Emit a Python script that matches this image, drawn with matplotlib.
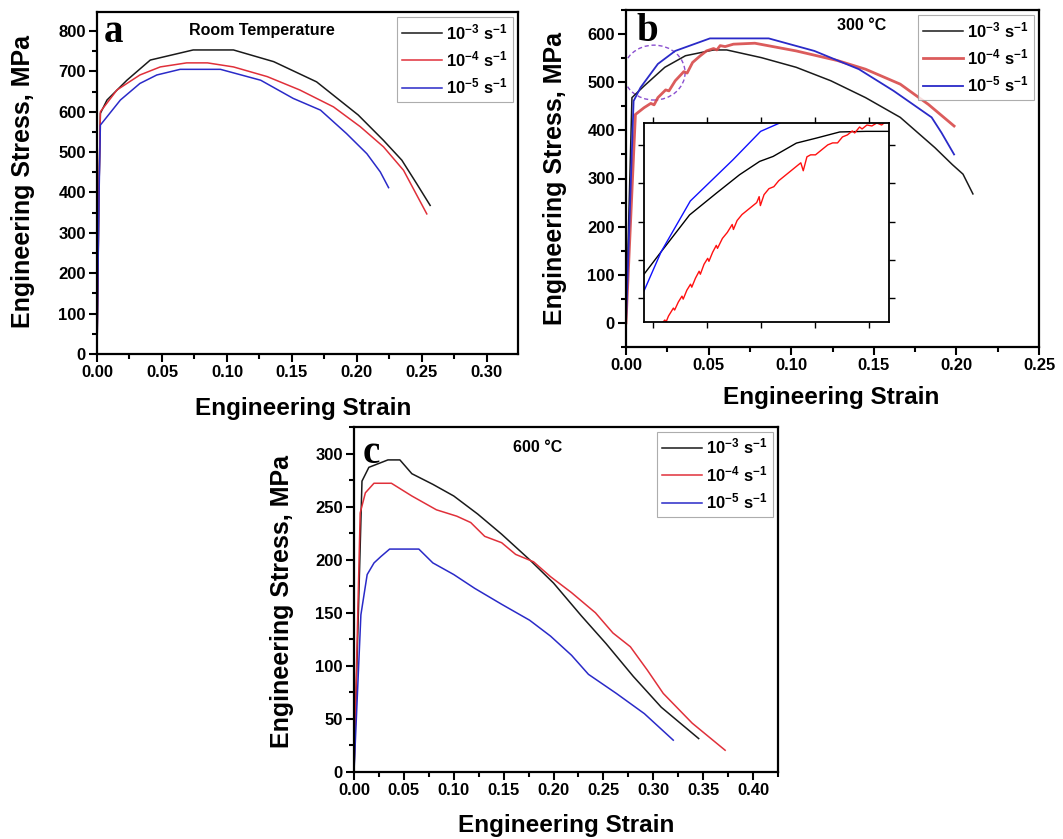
import numpy as np
import matplotlib
matplotlib.use('Agg')
import matplotlib.pyplot as plt
from matplotlib.patches import Ellipse
from matplotlib.ticker import MultipleLocator, FormatStrFormatter

plt.rcParams['font.family'] = ['Liberation Sans', 'DejaVu Sans']
plt.rcParams['font.weight'] = 'bold'
plt.rcParams['mathtext.fontset'] = 'custom'
plt.rcParams['mathtext.rm'] = 'Liberation Sans:bold'
plt.rcParams['mathtext.it'] = 'Liberation Sans:bold'
plt.rcParams['mathtext.bf'] = 'Liberation Sans:bold'
plt.rcParams['mathtext.default'] = 'rm'

# legend labels (strain rates)
rates = [r'$10^{-3}\ s^{-1}$', r'$10^{-4}\ s^{-1}$', r'$10^{-5}\ s^{-1}$']

# ---- (a) room temperature ----
a_x1 = [0, 0.0015, 0.0026, 0.0077, 0.023, 0.041, 0.074, 0.105, 0.136, 0.169, 0.201, 0.2205, 0.2346, 0.246, 0.2564]
a_y1 = [0, 400, 596, 629, 678, 728, 753, 753, 724, 674, 592, 529, 480, 422, 368]
a_x2 = [0, 0.0015, 0.0026, 0.0154, 0.033, 0.0487, 0.069, 0.085, 0.105, 0.131, 0.156, 0.182, 0.2026, 0.2205, 0.2359, 0.2538]
a_y2 = [0, 400, 600, 654, 691, 711, 721, 721, 711, 687, 654, 612, 563, 513, 455, 347]
a_x3 = [0, 0.0015, 0.0026, 0.018, 0.033, 0.046, 0.064, 0.095, 0.126, 0.151, 0.172, 0.192, 0.2077, 0.218, 0.2244]
a_y3 = [0, 380, 567, 629, 670, 691, 705, 705, 678, 633, 604, 546, 496, 451, 412]

# ---- (b) 300 C ----
b_x1 = [0, 0.0036, 0.0109, 0.0235, 0.036, 0.053, 0.061, 0.082, 0.103, 0.124, 0.145, 0.166, 0.187, 0.1975, 0.204, 0.210]
b_y1 = [0, 468, 492, 531, 555, 567, 567, 551, 531, 503, 468, 427, 364, 329, 309, 268]
b_x2 = [0, 0.0057, 0.0109, 0.015, 0.017, 0.0193, 0.024, 0.026, 0.0298, 0.035, 0.037, 0.0403, 0.045, 0.0487,
        0.053, 0.055, 0.057, 0.060, 0.065, 0.078, 0.103, 0.128, 0.145, 0.166, 0.183, 0.1986]
b_y2 = [0, 433, 447, 456, 453, 468, 484, 482, 503, 522, 519, 541, 555, 565, 570, 567, 576, 574, 579, 581,
        565, 545, 527, 496, 454, 409]
b_x3 = [0, 0.0046, 0.0088, 0.0193, 0.0298, 0.0508, 0.0864, 0.114, 0.141, 0.162, 0.185, 0.191, 0.1986]
b_y3 = [0, 461, 489, 538, 565, 591, 591, 565, 527, 482, 427, 395, 350]

# inset (zoom of the circled region, no scale shown)
in_x1 = [0.0, 0.07, 0.186, 0.295, 0.39, 0.472, 0.527, 0.622, 0.703, 0.799, 0.907, 1.0]
in_y1 = [0.24, 0.353, 0.538, 0.647, 0.74, 0.807, 0.832, 0.899, 0.924, 0.955, 0.958, 0.958]
in_x2 = [0.078, 0.085, 0.09, 0.10, 0.12, 0.125, 0.14, 0.155, 0.16, 0.175, 0.19, 0.195, 0.21, 0.225, 0.23,
         0.245, 0.26, 0.265, 0.28, 0.295, 0.30, 0.32, 0.34, 0.36, 0.365, 0.38, 0.40, 0.42, 0.44, 0.46,
         0.47, 0.475, 0.49, 0.51, 0.53, 0.55, 0.57, 0.60, 0.63, 0.64, 0.65, 0.665, 0.68, 0.70, 0.72,
         0.75, 0.77, 0.79, 0.81, 0.83, 0.85, 0.86, 0.88, 0.89, 0.91, 0.93, 0.95, 0.97, 0.99]
in_y2 = [0.0, 0.01, 0.0, 0.03, 0.07, 0.06, 0.10, 0.13, 0.115, 0.16, 0.19, 0.175, 0.22, 0.255, 0.24,
         0.29, 0.32, 0.305, 0.35, 0.385, 0.37, 0.42, 0.45, 0.49, 0.465, 0.51, 0.54, 0.56, 0.58, 0.60,
         0.63, 0.585, 0.64, 0.67, 0.68, 0.71, 0.73, 0.76, 0.79, 0.80, 0.76, 0.83, 0.84, 0.84, 0.86,
         0.89, 0.90, 0.90, 0.93, 0.94, 0.96, 0.95, 0.98, 0.97, 0.99, 0.985, 1.0, 0.99, 1.01]
in_x3 = [0.0, 0.07, 0.189, 0.363, 0.476, 0.554]
in_y3 = [0.156, 0.353, 0.608, 0.815, 0.958, 1.0]

# ---- (c) 600 C ----
c_x1 = [0, 0.008, 0.0149, 0.034, 0.046, 0.058, 0.079, 0.1, 0.124, 0.148, 0.176, 0.2, 0.228, 0.2526, 0.28, 0.308, 0.3455]
c_y1 = [0, 274, 287, 294, 294, 281, 271, 260, 243, 224, 200, 178, 147, 121, 90, 61, 31.5]
c_x2 = [0, 0.0062, 0.0114, 0.020, 0.0375, 0.058, 0.0826, 0.103, 0.117, 0.131, 0.148, 0.162, 0.18, 0.197,
        0.218, 0.242, 0.2595, 0.277, 0.294, 0.31, 0.339, 0.372]
c_y2 = [0, 244, 263, 272, 272, 260, 247, 241, 235, 222, 216, 205, 198, 184, 169, 150, 131, 118, 96, 74, 46, 20.5]
c_x3 = [0, 0.0069, 0.0132, 0.0201, 0.027, 0.0357, 0.065, 0.079, 0.1, 0.121, 0.148, 0.176, 0.197, 0.218,
        0.235, 0.263, 0.291, 0.32]
c_y3 = [0, 148, 186, 197, 203, 210, 210, 197, 186, 173, 158, 143, 128, 110, 92, 74, 55, 30]

W, H = 1063, 839
fig = plt.figure(figsize=(W / 100, H / 100), dpi=100)


def px_axes(l, t, r, b):
    return fig.add_axes([l / W, 1 - b / H, (r - l) / W, (b - t) / H])


def style(ax, xmaj, ymaj):
    ax.xaxis.set_major_locator(MultipleLocator(xmaj))
    ax.xaxis.set_minor_locator(MultipleLocator(xmaj / 2))
    ax.yaxis.set_major_locator(MultipleLocator(ymaj))
    ax.yaxis.set_minor_locator(MultipleLocator(ymaj / 2))
    ax.xaxis.set_major_formatter(FormatStrFormatter('%.2f'))
    ax.yaxis.set_major_formatter(FormatStrFormatter('%d'))
    ax.tick_params(which='major', direction='out', length=6, width=1.5, labelsize=12, pad=2)
    ax.tick_params(which='minor', direction='out', length=3.5, width=1.5)
    for s in ax.spines.values():
        s.set_linewidth(1.6)


def add_legend(ax):
    leg = ax.legend(loc='upper right', fontsize=12, frameon=True, fancybox=False, edgecolor='#999999',
                    handlelength=2.4, handletextpad=0.25, labelspacing=0.45, borderaxespad=0.3, borderpad=0.3)
    leg.get_frame().set_linewidth(0.8)


black, red, blue = '#1a1a1a', '#e0303a', '#2a2ac8'

# panel a
ax = px_axes(97, 12, 518, 354)
ax.plot(a_x1, a_y1, color=black, lw=1.1, label=rates[0])
ax.plot(a_x2, a_y2, color=red, lw=1.1, label=rates[1])
ax.plot(a_x3, a_y3, color=blue, lw=1.1, label=rates[2])
ax.set_xlim(0, 0.324)
ax.set_ylim(0, 847)
style(ax, 0.05, 100)
ax.set_xlabel('Engineering Strain', fontsize=17.5, fontweight='bold', va='center')
ax.xaxis.set_label_coords(0.489, -0.158)
ax.set_ylabel('Engineering Stress, MPa', fontsize=18, fontweight='bold', va='center')
ax.yaxis.set_label_coords(-0.176, 0.503)
ax.text(0.392, 0.947, 'Room Temperature', transform=ax.transAxes, ha='center', va='center', fontsize=11.5, fontweight='bold')
ax.text(0.04, 0.94, 'a', transform=ax.transAxes, ha='center', va='center', fontsize=28, fontweight='bold', family='Liberation Serif')
add_legend(ax)

# panel b
ax = px_axes(626, 10, 1039, 347)
ax.plot(b_x1, b_y1, color=black, lw=1.1, label=rates[0])
ax.plot(b_x2, b_y2, color='#d84a4a', lw=2.0, alpha=0.9, label=rates[1])
ax.plot(b_x3, b_y3, color=blue, lw=1.3, label=rates[2])
ax.add_patch(Ellipse((0.017, 520), 0.0375, 114, fill=False, ls=(0, (3, 2)), lw=1.0, color='#8a4fd0'))
ax.set_xlim(0, 0.25)
ax.set_ylim(-50, 650)
style(ax, 0.05, 100)
ax.set_xlabel('Engineering Strain', fontsize=17.5, fontweight='bold', va='center')
ax.xaxis.set_label_coords(0.496, -0.151)
ax.set_ylabel('Engineering Stress, MPa', fontsize=18, fontweight='bold', va='center')
ax.yaxis.set_label_coords(-0.172, 0.5)
ax.text(0.571, 0.955, '300 °C', transform=ax.transAxes, ha='center', va='center', fontsize=11.5, fontweight='bold')
ax.text(0.051, 0.935, 'b', transform=ax.transAxes, ha='center', va='center', fontsize=28, fontweight='bold', family='Liberation Serif')
add_legend(ax)

# inset of b
axi = px_axes(644, 123, 889, 322)
axi.plot(in_x1, in_y1, color='black', lw=1.0)
axi.plot(in_x2, in_y2, color='#ff1010', lw=1.0)
axi.plot(in_x3, in_y3, color='#1010ff', lw=1.0)
axi.set_xlim(0, 1)
axi.set_ylim(0, 1)
axi.set_xticks([0.037, 0.257, 0.476, 0.696, 0.918])
axi.set_yticks([0.123, 0.311, 0.504, 0.697, 0.891])
axi.tick_params(direction='out', length=4, width=1.0, top=True, right=True,
                labelbottom=False, labelleft=False)
for s in axi.spines.values():
    s.set_linewidth(1.3)

# panel c
ax = px_axes(354, 427, 778, 772)
ax.plot(c_x1, c_y1, color=black, lw=1.1, label=rates[0])
ax.plot(c_x2, c_y2, color=red, lw=1.1, label=rates[1])
ax.plot(c_x3, c_y3, color=blue, lw=1.1, label=rates[2])
ax.set_xlim(0, 0.425)
ax.set_ylim(0, 325)
style(ax, 0.05, 50)
ax.set_xlabel('Engineering Strain', fontsize=17.5, fontweight='bold', va='center')
ax.xaxis.set_label_coords(0.5, -0.154)
ax.set_ylabel('Engineering Stress, MPa', fontsize=18, fontweight='bold', va='center')
ax.yaxis.set_label_coords(-0.169, 0.493)
ax.text(0.432, 0.942, '600 °C', transform=ax.transAxes, ha='center', va='center', fontsize=11.5, fontweight='bold')
ax.text(0.04, 0.922, 'c', transform=ax.transAxes, ha='center', va='center', fontsize=28, fontweight='bold', family='Liberation Serif')
add_legend(ax)

fig.savefig('out.png', dpi=100)
